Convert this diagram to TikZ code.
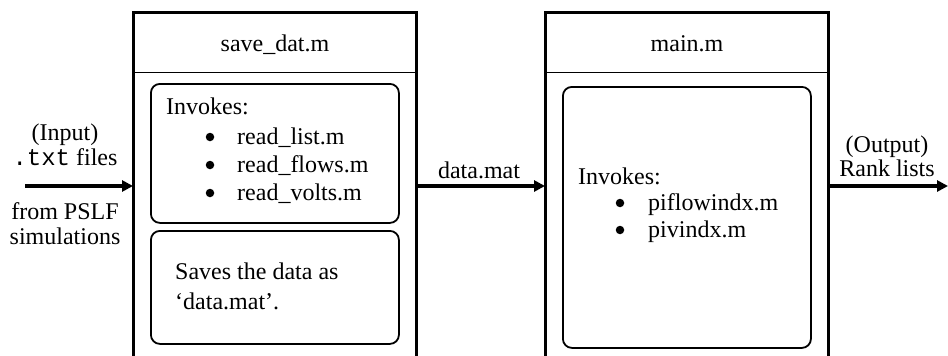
\documentclass[tikz,border=0pt]{standalone}
\usepackage{fontspec}
\setmainfont{Liberation Serif}
\setmonofont{Liberation Mono}
\usetikzlibrary{arrows.meta}
\begin{document}
\begin{tikzpicture}[x=1pt,y=-1pt,
  outerline/.style={line width=3pt},
  sepline/.style={line width=1pt},
  innerbox/.style={draw, line width=1.8pt, rounded corners=9pt},
  txt/.style={font=\fontsize{24}{28}\selectfont, inner sep=0pt},
  bul/.style={circle, fill=black, inner sep=0pt, minimum size=8.5pt},
  flow/.style={line width=3.5pt, -{Triangle[length=11pt,width=11pt]}},
  area/.style={draw=none, inner sep=0pt}
]
\useasboundingbox (0,0) rectangle (948,356);
\fill[white] (0,0) rectangle (948,356);

% outer module frames (open at the bottom)
\node[area, minimum width=283pt, minimum height=344pt, anchor=north west] (save) at (133,12) {};
\node[area, minimum width=283pt, minimum height=344pt, anchor=north west] (mainm) at (545,12) {};
\draw[outerline] (save.south west) -- (save.north west) -- (save.north east) -- (save.south east);
\draw[outerline] (mainm.south west) -- (mainm.north west) -- (mainm.north east) -- (mainm.south east);
\coordinate (sepL) at (133,72);
\coordinate (sepR) at (545,72);
\draw[sepline] (sepL) -- (save.east |- sepL);
\draw[sepline] (sepR) -- (mainm.east |- sepR);

% headers
\node[txt, anchor=base] (savetitle) at (275,51) {save\_dat.m};
\node[txt, anchor=base] (maintitle) at (687,51) {main.m};

% inner boxes
\node[innerbox, minimum width=248pt, minimum height=139pt, anchor=north west] (inv1) at (150,83) {};
\node[innerbox, minimum width=248pt, minimum height=113pt, anchor=north west] (savebox) at (150,230) {};
\node[innerbox, minimum width=248pt, minimum height=261pt, anchor=north west] (inv2) at (562,86) {};

% left inner box text
\node[txt, anchor=base west] (i1) at (166,114) {Invokes:};
\node[bul] (b1) at (210,137) {};
\node[bul] (b2) at (210,165) {};
\node[bul] (b3) at (210,193) {};
\node[txt, anchor=base west] (r1) at (237,144) {read\_list.m};
\node[txt, anchor=base west] (r2) at (237,172) {read\_flows.m};
\node[txt, anchor=base west] (r3) at (237,200) {read\_volts.m};

\node[txt, anchor=base west] (s1) at (175,279) {Saves the data as};
\node[txt, anchor=base west] (s2) at (175,309) {‘data.mat’.};

% right inner box text
\node[txt, anchor=base west] (i2) at (578,184) {Invokes:};
\node[bul] (b4) at (620,203) {};
\node[bul] (b5) at (620,230) {};
\node[txt, anchor=base west] (p1) at (648,210) {piflowindx.m};
\node[txt, anchor=base west] (p2) at (648,237) {pivindx.m};

% input side
\node[txt, anchor=base] (inp1) at (65,140) {(Input)};
\node[txt, anchor=base] (inp2) at (65,165) {\texttt{.txt} files};
\node[txt, anchor=base] (inp3) at (65,219) {from PSLF};
\node[txt, anchor=base] (inp4) at (65,244) {simulations};
\coordinate (inStart) at (25,186);
\draw[flow] (inStart) -- (save.west |- inStart);

% between modules
\node[txt, anchor=base] (dm) at (479,178) {data.mat};
\coordinate (midY) at (0,186);
\draw[flow] (save.east |- midY) -- (mainm.west |- midY);

% output side
\node[txt, anchor=base] (out1) at (887,152) {(Output)};
\node[txt, anchor=base] (out2) at (887,176) {Rank lists};
\coordinate (outEnd) at (948,186);
\draw[flow] (mainm.east |- outEnd) -- (outEnd);
\end{tikzpicture}
\end{document}
